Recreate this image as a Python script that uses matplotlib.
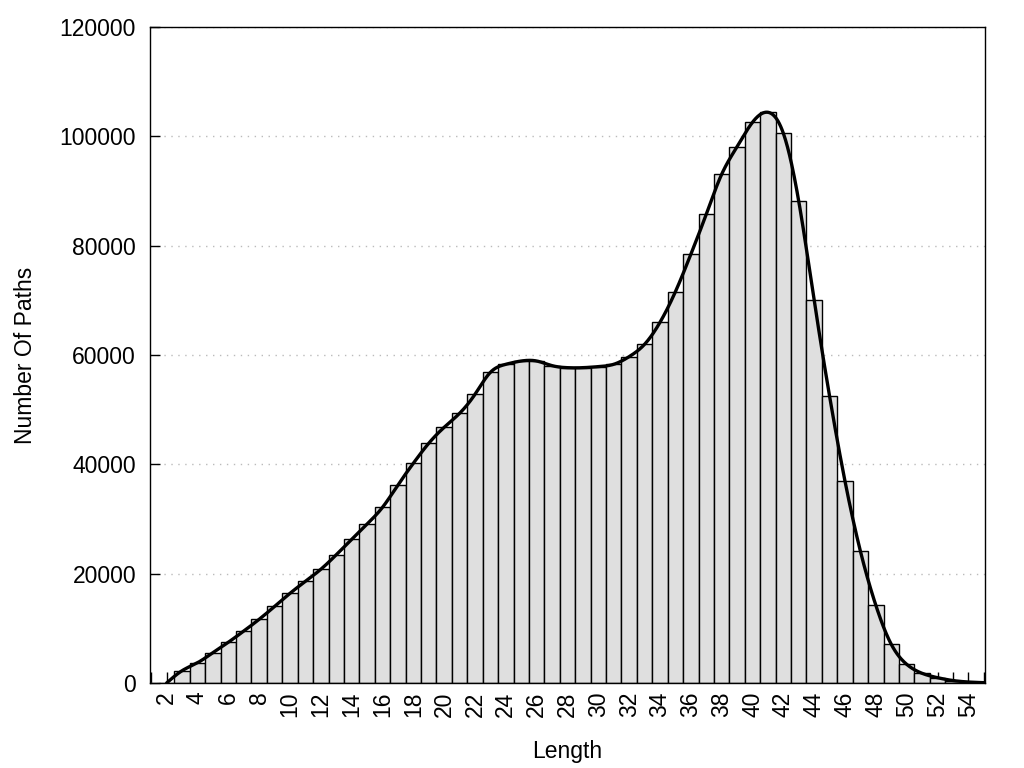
import numpy as np
import matplotlib
matplotlib.use("Agg")
import matplotlib.pyplot as plt
from matplotlib.ticker import MultipleLocator

lengths = list(range(2, 56))
counts = [0, 2250, 3700, 5550, 7450, 9500, 11650, 14000, 16400, 18600,
          20800, 23450, 26280, 29080, 32130, 36220, 40190, 43850, 46770, 49330,
          52810, 56830, 58300, 58900, 58900, 58050, 57680, 57680, 57870, 58300,
          59700, 61960, 65980, 71580, 78420, 85740, 93060, 98110, 102570, 104400,
          100560, 88120, 70000, 52450, 36900, 24100, 14210, 7080, 3420, 1770,
          970, 450, 180, 60]
x_tick_labels = [str(v) for v in range(2, 56, 2)]
y_ticks = [0, 20000, 40000, 60000, 80000, 100000, 120000]


def natural_cubic_spline(x, y, xs):
    x = np.asarray(x, float)
    y = np.asarray(y, float)
    n = len(x)
    h = np.diff(x)
    A = np.zeros((n, n))
    b = np.zeros(n)
    A[0, 0] = 1
    A[-1, -1] = 1
    for i in range(1, n - 1):
        A[i, i - 1] = h[i - 1]
        A[i, i] = 2 * (h[i - 1] + h[i])
        A[i, i + 1] = h[i]
        b[i] = 3 * ((y[i + 1] - y[i]) / h[i] - (y[i] - y[i - 1]) / h[i - 1])
    c = np.linalg.solve(A, b)
    bb = np.zeros(n - 1)
    d = np.zeros(n - 1)
    for i in range(n - 1):
        bb[i] = (y[i + 1] - y[i]) / h[i] - h[i] * (2 * c[i] + c[i + 1]) / 3
        d[i] = (c[i + 1] - c[i]) / (3 * h[i])
    idx = np.clip(np.searchsorted(x, xs) - 1, 0, n - 2)
    dx = xs - x[idx]
    return y[idx] + bb[idx] * dx + c[idx] * dx ** 2 + d[idx] * dx ** 3


plt.rcParams['font.family'] = ['Liberation Sans', 'DejaVu Sans']

fig = plt.figure(figsize=(10.24, 7.68), dpi=100)
ax = fig.add_axes([150 / 1024, 85 / 768, 835 / 1024, 656 / 768])

ax.bar(lengths, counts, width=1.0, color='#dfdfdf', edgecolor='black',
       linewidth=1.0, zorder=1)

xs = np.linspace(lengths[0], lengths[-1], 1200)
ys = natural_cubic_spline(lengths, counts, xs)
ax.plot(xs, ys, color='black', linewidth=2.4, zorder=3, solid_capstyle='round')

ax.set_xlim(0.92, 55.08)
ax.set_ylim(0, 120000)
ax.set_axisbelow(True)

ax.set_xticks(list(range(2, 56, 2)))
ax.set_xticklabels(x_tick_labels, rotation=90, fontsize=16.5)
ax.xaxis.set_minor_locator(MultipleLocator(1))
ax.set_yticks(y_ticks)
ax.set_yticklabels([str(v) for v in y_ticks], fontsize=16.5)

ax.tick_params(axis='x', which='both', direction='in', length=8, width=1,
               pad=6)
ax.tick_params(axis='y', which='both', direction='in', length=7, width=1,
               pad=10)

ax.yaxis.grid(True, linestyle=(0, (1, 4)), color='#bbbbbb', linewidth=1)
ax.xaxis.grid(False)

for s in ax.spines.values():
    s.set_linewidth(1)
    s.set_color('black')

ax.set_xlabel('Length', fontsize=16.5, labelpad=17)
ax.set_ylabel('Number Of Paths', fontsize=16.5, labelpad=16)

fig.savefig('out.png', dpi=100)
